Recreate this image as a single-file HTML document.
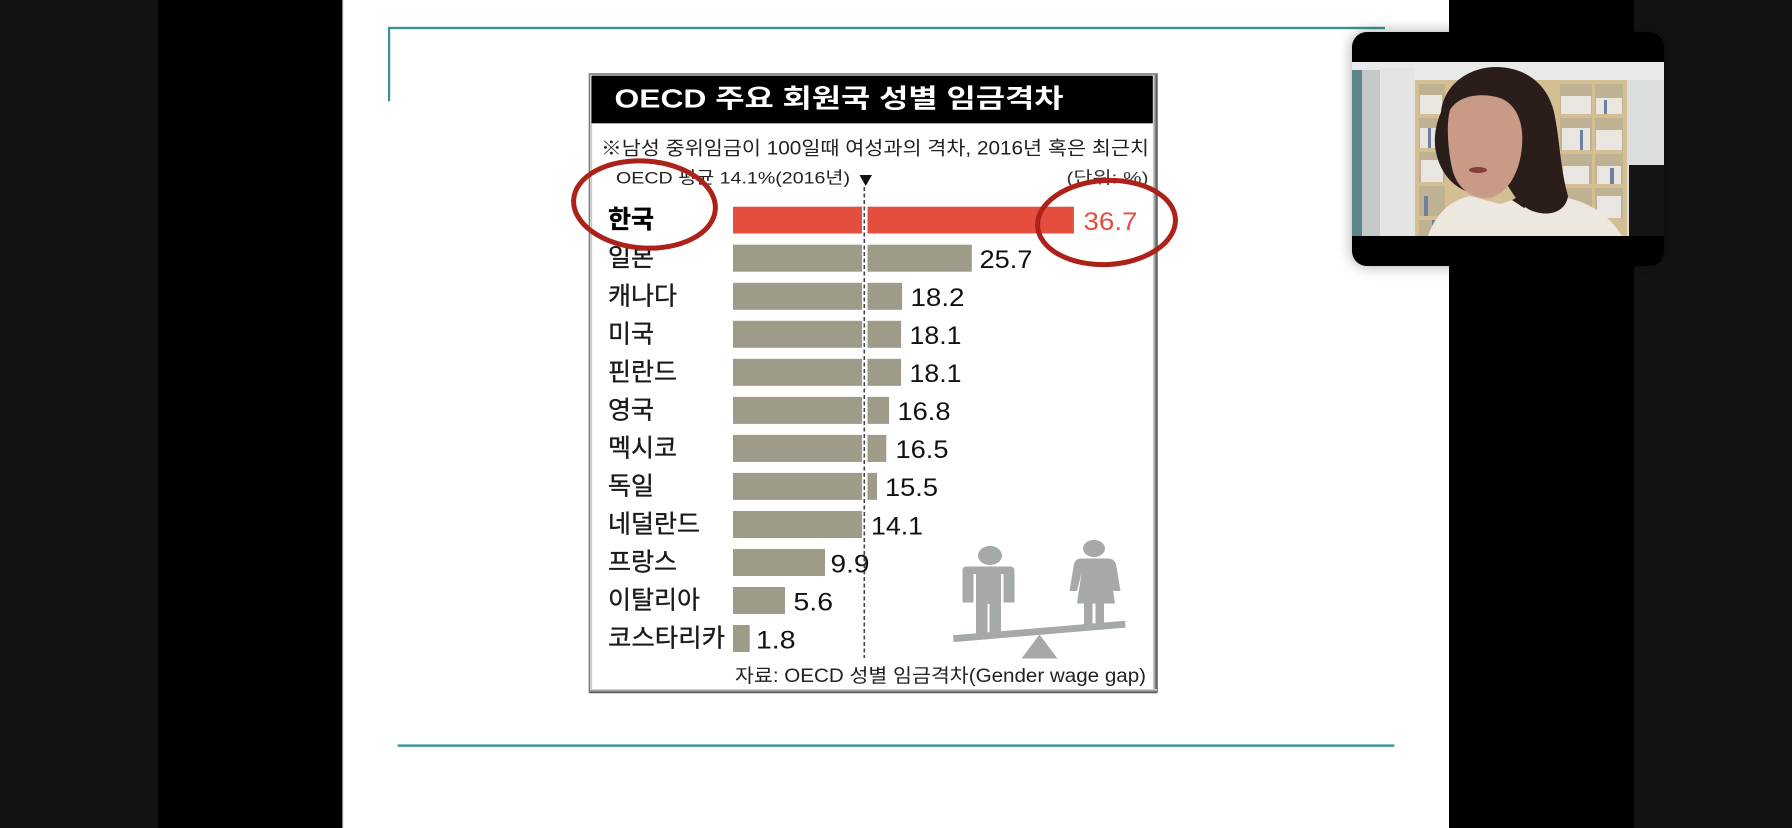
<!DOCTYPE html>
<html>
<head>
<meta charset="utf-8">
<style>
html,body{margin:0;padding:0;background:#131313;}
body{width:1792px;height:828px;overflow:hidden;}
svg{display:block;}
</style>
</head>
<body>
<svg width="1792" height="828" viewBox="0 0 1792 828" xmlns="http://www.w3.org/2000/svg">
<defs>
  <filter id="sh" x="-20%" y="-20%" width="140%" height="140%">
    <feDropShadow dx="0" dy="0" stdDeviation="7" flood-color="#000" flood-opacity="0.35"/>
  </filter>
  <clipPath id="vid"><rect x="1352" y="62" width="312" height="174"/></clipPath>
  <linearGradient id="rb" x1="0" x2="1" y1="0" y2="0">
    <stop offset="0" stop-color="#e2e2e2"/><stop offset="1" stop-color="#4a4a4a"/>
  </linearGradient>
  <linearGradient id="bb" x1="0" x2="0" y1="0" y2="1">
    <stop offset="0" stop-color="#e2e2e2"/><stop offset="1" stop-color="#4a4a4a"/>
  </linearGradient>
</defs>

<!-- background bands -->
<rect x="0" y="0" width="1792" height="828" fill="#131313"/>
<rect x="158" y="0" width="185" height="828" fill="#000"/>
<rect x="1449" y="0" width="185" height="828" fill="#000"/>
<rect x="343" y="0" width="1106" height="828" fill="#ffffff"/>
<rect x="342" y="0" width="1.2" height="828" fill="#8a8a8a"/>

<!-- teal lines -->
<rect x="388" y="26.8" width="997" height="2.4" fill="#3a9494"/>
<rect x="388" y="26.8" width="2.2" height="74.5" fill="#3a9494"/>
<rect x="397.7" y="744.4" width="996.6" height="2.4" fill="#3a9494"/>

<!-- chart box -->
<rect x="589.5" y="74" width="567.5" height="618.5" fill="#ffffff" stroke="#777" stroke-width="1.6"/>
<rect x="591" y="76" width="1.2" height="614" fill="#c8c8c8"/>
<rect x="1152.8" y="75" width="4.4" height="617" fill="url(#rb)"/>
<rect x="590" y="689" width="567" height="3.8" fill="url(#bb)"/>
<rect x="591.5" y="75.6" width="561.3" height="47.7" fill="#000"/>

<g font-family="'Liberation Sans','Noto Sans CJK KR','Noto Sans CJK JP',sans-serif">
  <text x="614.5" y="107.5" font-size="26" font-weight="700" fill="#fff" textLength="449" lengthAdjust="spacingAndGlyphs">OECD 주요 회원국 성별 임금격차</text>
  <text x="601" y="154.5" font-size="19" fill="#222" textLength="548" lengthAdjust="spacingAndGlyphs">※남성 중위임금이 100일때 여성과의 격차, 2016년 혹은 최근치</text>
  <text x="616" y="183.5" font-size="17" fill="#222" textLength="234" lengthAdjust="spacingAndGlyphs">OECD 평균 14.1%(2016년)</text>
  <polygon points="859.5,175 872,175 865.7,186" fill="#111"/>
  <text x="1066.5" y="183.5" font-size="17" fill="#333" textLength="82" lengthAdjust="spacingAndGlyphs">(단위: %)</text>

  <!-- bars -->
  <g fill="#9e9b89">
    <rect x="733" y="244.7" width="238.8" height="27"/>
    <rect x="733" y="282.8" width="169.1" height="27"/>
    <rect x="733" y="320.8" width="168.1" height="27"/>
    <rect x="733" y="358.8" width="168.1" height="27"/>
    <rect x="733" y="396.9" width="156.1" height="27"/>
    <rect x="733" y="434.9" width="153.3" height="27"/>
    <rect x="733" y="472.9" width="144.0" height="27"/>
    <rect x="733" y="511.0" width="129.0" height="27"/>
    <rect x="733" y="549.0" width="92.0" height="27"/>
    <rect x="733" y="587.0" width="52.0" height="27"/>
    <rect x="733" y="625.0" width="16.7" height="27"/>
  </g>
  <rect x="733" y="206.7" width="340.9" height="26.8" fill="#e34e3e"/>
  <!-- white gap at average line -->
  <g fill="#fff">
    <rect x="862" y="206" width="5.5" height="28.5"/>
    <rect x="862" y="244" width="5.5" height="28.5"/>
    <rect x="862" y="282" width="5.5" height="28.5"/>
    <rect x="862" y="320" width="5.5" height="28.5"/>
    <rect x="862" y="358" width="5.5" height="28.5"/>
    <rect x="862" y="396" width="5.5" height="28.5"/>
    <rect x="862" y="434" width="5.5" height="28.5"/>
    <rect x="862" y="472" width="5.5" height="28.5"/>
  </g>
  <line x1="864.3" y1="187" x2="864.3" y2="658" stroke="#444" stroke-width="1.6" stroke-dasharray="4 2.5"/>

  <!-- country labels -->
  <g font-size="25" fill="#1a1a1a" stroke="#1a1a1a" stroke-width="0.35">
    <text x="608" y="228.2" font-weight="700" fill="#000" stroke="#000">한국</text>
    <text x="608" y="266.2">일본</text>
    <text x="608" y="304.3">캐나다</text>
    <text x="608" y="342.3">미국</text>
    <text x="608" y="380.3">핀란드</text>
    <text x="608" y="418.4">영국</text>
    <text x="608" y="456.4">멕시코</text>
    <text x="608" y="494.4">독일</text>
    <text x="608" y="532.5">네덜란드</text>
    <text x="608" y="570.5">프랑스</text>
    <text x="608" y="608.5">이탈리아</text>
    <text x="608" y="646.5" textLength="117" lengthAdjust="spacingAndGlyphs">코스타리카</text>
  </g>

  <!-- values -->
  <g font-size="25" fill="#111">
    <text x="1083.5" y="230" fill="#e34e3e" textLength="54" lengthAdjust="spacingAndGlyphs">36.7</text>
    <text x="979.5" y="268" textLength="53" lengthAdjust="spacingAndGlyphs">25.7</text>
    <text x="910.5" y="306.1" textLength="54" lengthAdjust="spacingAndGlyphs">18.2</text>
    <text x="909.5" y="344.1" textLength="52" lengthAdjust="spacingAndGlyphs">18.1</text>
    <text x="909.5" y="382.1" textLength="52" lengthAdjust="spacingAndGlyphs">18.1</text>
    <text x="897.5" y="420.2" textLength="53" lengthAdjust="spacingAndGlyphs">16.8</text>
    <text x="895.5" y="458.2" textLength="53" lengthAdjust="spacingAndGlyphs">16.5</text>
    <text x="885" y="496.2" textLength="53" lengthAdjust="spacingAndGlyphs">15.5</text>
    <text x="871" y="534.3" textLength="52" lengthAdjust="spacingAndGlyphs">14.1</text>
    <text x="830.5" y="572.3" textLength="39" lengthAdjust="spacingAndGlyphs">9.9</text>
    <text x="793.5" y="610.3" textLength="39.5" lengthAdjust="spacingAndGlyphs">5.6</text>
    <text x="756" y="648.3" textLength="39.5" lengthAdjust="spacingAndGlyphs">1.8</text>
  </g>

  <text x="735" y="682" font-size="19" fill="#222" textLength="411" lengthAdjust="spacingAndGlyphs">자료: OECD 성별 임금격차(Gender wage gap)</text>
</g>

<!-- seesaw icon -->
<g fill="#a5a9aa">
  <ellipse cx="990" cy="555.5" rx="12" ry="9.5"/>
  <path d="M966,566.5 L1010,566.5 Q1014.5,566.5 1014.5,571 L1014.5,602.5 L1003.5,602.5 L1003.5,574 L1001,574 L1001,604 L976,604 L976,574 L973.5,574 L973.5,602.5 L962.5,602.5 L962.5,571 Q962.5,566.5 966,566.5 Z"/>
  <rect x="976" y="603" width="11.5" height="33"/>
  <rect x="989.5" y="603" width="11.5" height="32"/>
  <ellipse cx="1094" cy="548.5" rx="11" ry="8.5"/>
  <path d="M1080,558.5 L1108,558.5 Q1114,558.5 1116,564 L1120.5,591 L1113,591 L1110.5,573 L1115,603.5 L1077,603.5 L1081.5,573 L1077,591 L1069.5,591 L1074,564 Q1076,558.5 1080,558.5 Z"/>
  <rect x="1084" y="602" width="8.5" height="23"/>
  <rect x="1095.5" y="602" width="8.5" height="22"/>
  <polygon points="953,635.3 1125,620.8 1125.6,627.6 953.6,642.1"/>
  <polygon points="1039.5,634.5 1057.5,658.5 1021.5,658.5"/>
</g>

<!-- hand-drawn red ellipses -->
<g fill="none" stroke="#ad2119" stroke-width="5">
  <ellipse cx="644.5" cy="204.5" rx="71" ry="43.5" transform="rotate(4 644.5 204.5)"/>
  <ellipse cx="1106.5" cy="222.5" rx="69" ry="42" transform="rotate(-3 1106.5 222.5)"/>
</g>

<!-- webcam panel -->
<rect x="1352" y="32" width="312" height="234" rx="15" ry="15" fill="#000" filter="url(#sh)"/>
<g clip-path="url(#vid)">
  <rect x="1352" y="62" width="312" height="174" fill="#dcdedd"/>
  <rect x="1352" y="62" width="312" height="18" fill="#e8eae9"/>
  <rect x="1352" y="70" width="10" height="166" fill="#5d868b"/>
  <rect x="1362" y="70" width="18" height="166" fill="#c4c8c7"/>
  <rect x="1380" y="68" width="35" height="168" fill="#e4e5e3"/>
  <!-- bookshelf -->
  <rect x="1415" y="80" width="212" height="156" fill="#d4bf95"/>
  <g fill="#bfb293">
    <rect x="1419" y="84" width="26" height="30"/>
    <rect x="1419" y="118" width="26" height="30"/>
    <rect x="1419" y="152" width="26" height="30"/>
    <rect x="1419" y="186" width="26" height="30"/>
    <rect x="1419" y="220" width="26" height="16"/>
    <rect x="1560" y="84" width="32" height="30"/>
    <rect x="1595" y="84" width="28" height="30"/>
    <rect x="1560" y="118" width="32" height="32"/>
    <rect x="1595" y="118" width="28" height="32"/>
    <rect x="1560" y="154" width="32" height="30"/>
    <rect x="1595" y="154" width="28" height="30"/>
    <rect x="1560" y="188" width="32" height="30"/>
    <rect x="1595" y="188" width="28" height="30"/>
  </g>
  <g fill="#e9e6e2">
    <rect x="1420" y="95" width="22" height="19"/>
    <rect x="1420" y="128" width="20" height="20"/>
    <rect x="1421" y="160" width="22" height="22"/>
    <rect x="1561" y="96" width="30" height="18"/>
    <rect x="1596" y="98" width="26" height="16"/>
    <rect x="1562" y="128" width="28" height="22"/>
    <rect x="1596" y="130" width="26" height="20"/>
    <rect x="1563" y="166" width="26" height="18"/>
    <rect x="1597" y="166" width="24" height="18"/>
    <rect x="1597" y="196" width="24" height="22"/>
  </g>
  <g fill="#6f7f9e">
    <rect x="1428" y="128" width="3" height="20"/>
    <rect x="1424" y="196" width="4" height="20"/>
    <rect x="1432" y="220" width="5" height="16"/>
    <rect x="1580" y="130" width="3" height="20"/>
    <rect x="1604" y="100" width="3" height="14"/>
    <rect x="1610" y="168" width="4" height="16"/>
  </g>
  <!-- monitor right -->
  <rect x="1629" y="165" width="35" height="71" fill="#151515"/>
  <!-- shirt -->
  <path d="M1428,236 C1435,215 1450,200 1470,196 L1500,204 L1525,196 C1560,192 1600,200 1622,236 Z" fill="#ece8e0"/>
  <!-- hair -->
  <path d="M1441,112 C1444,84 1470,66 1498,67 C1528,68 1548,86 1554,112 C1560,140 1560,168 1568,196 C1566,212 1548,218 1530,210 C1518,204 1512,192 1508,186 L1468,192 C1452,186 1440,172 1436,152 C1433,138 1436,124 1441,112 Z" fill="#2b1e1a"/>
  <!-- face -->
  <path d="M1450,110 C1458,96 1480,92 1500,98 C1516,104 1524,122 1522,146 C1520,170 1510,192 1490,198 C1470,200 1456,186 1452,168 C1448,150 1446,124 1450,110 Z" fill="#c99b87"/>
  <path d="M1505,96 C1525,104 1535,130 1532,160 C1530,180 1522,196 1512,200 L1524,208 C1540,200 1548,170 1546,140 C1544,112 1530,96 1505,96 Z" fill="#2b1e1a"/>
  <ellipse cx="1478" cy="170" rx="9" ry="3" fill="#8a3b3b"/>
</g>
</svg>
</body>
</html>
